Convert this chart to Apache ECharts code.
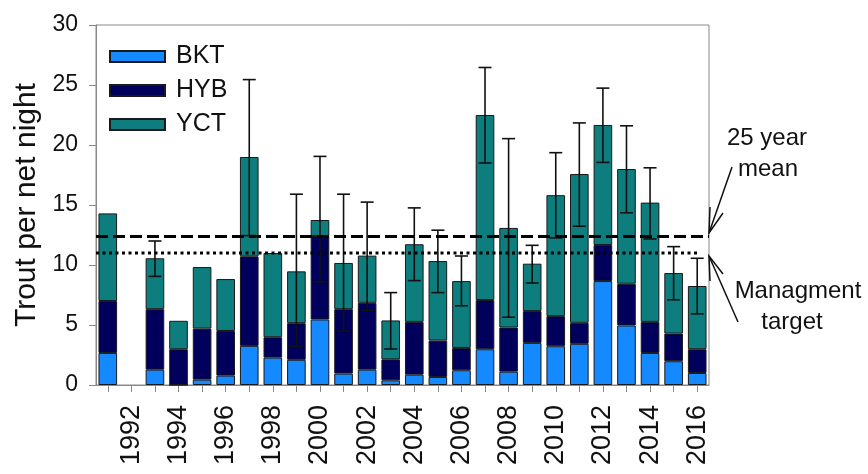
<!DOCTYPE html>
<html>
<head>
<meta charset="utf-8">
<script src="https://cdn.jsdelivr.net/npm/echarts@6/dist/echarts.min.js"></script>
<style>html,body{margin:0;padding:0;background:#fff;}#c{width:868px;height:474px;}</style>
</head>
<body>
<div id="c"></div>
<script>
const years = ['1991','1992','1993','1994','1995','1996','1997','1998','1999','2000','2001','2002','2003','2004','2005','2006','2007','2008','2009','2010','2011','2012','2013','2014','2015','2016'];
const bkt = [2.67,null,1.28,0,0.45,0.78,3.26,2.28,2.1,5.46,0.95,1.28,0.39,0.86,0.67,1.23,2.98,1.11,3.51,3.23,3.43,8.66,4.96,2.67,1.98,1.00];
const hyb = [4.33,null,5.04,2.98,4.25,3.72,7.46,1.70,3.05,6.96,5.37,5.57,1.75,4.40,3.03,1.86,4.10,3.68,2.65,2.51,1.75,3.01,3.48,2.59,2.31,1.98];
const yct = [7.30,null,4.24,2.37,5.13,4.33,8.28,7.02,4.32,1.33,3.85,3.93,3.24,6.47,6.63,5.57,15.42,8.30,3.95,10.08,12.40,10.00,9.56,9.94,5.04,5.27];
const errLow = [null,null,9.05,null,null,null,12.45,null,3.2,8.6,4.5,6.2,3.0,8.7,7.7,6.6,18.5,5.65,8.5,12.26,13.23,18.55,14.35,12.17,7.1,5.93];
const errHigh = [null,null,12.0,null,null,null,25.45,null,15.9,19.05,15.9,15.24,7.7,14.76,12.9,10.75,26.46,20.53,11.64,19.36,21.84,24.74,21.6,18.1,11.53,10.56];
const meanValue = 12.42;
const targetValue = 11.0;
const yTicks = [0,5,10,15,20,25,30];

const errData = [];
years.forEach((y, i) => { if (errLow[i] != null) errData.push([i, errLow[i], errHigh[i]]); });
// dotted target line: from the left edge of the plot to the last year's centre
const targetLine = [[-0.5, targetValue], [years.length - 1, targetValue]];

const font = 'Liberation Sans, Arial, sans-serif';
const barStyle = (c) => ({ color: c, borderColor: '#1a1a1a', borderWidth: 1 });

const chart = echarts.init(document.getElementById('c'));
chart.setOption({
  animation: false,
  textStyle: { fontFamily: font },
  grid: { left: 96, top: 25, right: 159, bottom: 89, show: true, borderColor: '#888', borderWidth: 1, containLabel: false },
  legend: {
    orient: 'vertical', left: 109, top: 44, itemWidth: 55, itemHeight: 11, itemGap: 9, padding: 0,
    icon: 'rect',
    textStyle: { fontSize: 25, color: '#111', padding: [0, 0, 0, 6], fontFamily: font },
    data: ['BKT', 'HYB', 'YCT']
  },
  xAxis: [{
    type: 'category', data: years,
    axisLine: { onZero: false, lineStyle: { color: '#888', width: 1 } },
    axisTick: { show: true, alignWithLabel: true, interval: 0, length: 7, lineStyle: { color: '#888' } },
    axisLabel: { interval: (i) => i % 2 === 1, rotate: 90, fontSize: 27, color: '#111', margin: 20, fontFamily: font }
  }, {
    type: 'value', min: -0.5, max: years.length - 0.5, show: false
  }],
  yAxis: {
    type: 'value', min: 0, max: 30, interval: 5,
    name: 'Trout per net night', nameLocation: 'middle', nameGap: 52,
    nameTextStyle: { fontSize: 30, color: '#111', fontFamily: font },
    axisLine: { show: true, onZero: false, lineStyle: { color: '#888', width: 1 } },
    axisTick: { show: true, length: 7, lineStyle: { color: '#888' } },
    splitLine: { show: false },
    axisLabel: { fontSize: 23, color: '#111', margin: 18, fontFamily: font,
      formatter: (v) => yTicks.includes(v) ? String(v) : '' }
  },
  series: [
    { name: 'BKT', type: 'bar', stack: 't', data: bkt, barWidth: '79%', itemStyle: barStyle('#1589ff') },
    { name: 'HYB', type: 'bar', stack: 't', data: hyb, barWidth: '79%', itemStyle: barStyle('#00005c') },
    { name: 'YCT', type: 'bar', stack: 't', data: yct, barWidth: '79%', itemStyle: barStyle('#0d7d7d'),
      markLine: {
        silent: true, symbol: 'none', label: { show: false }, z: 10,
        data: [ { yAxis: meanValue, lineStyle: { type: [12, 5], width: 3, color: '#000' } } ]
      }
    },
    {
      name: 'target', type: 'line', xAxisIndex: 1, data: targetLine, symbol: 'none', z: 10,
      lineStyle: { type: [3, 3.5], width: 3, color: '#000' }, silent: true
    },
    {
      name: 'err', type: 'custom', data: errData, z: 5,
      encode: { x: 0, y: [1, 2] },
      renderItem: (params, api) => {
        const x = api.value(0);
        const lo = api.coord([x, api.value(1)]);
        const hi = api.coord([x, api.value(2)]);
        const hw = 6.5;
        const st = { stroke: '#111', lineWidth: 1.6 };
        return { type: 'group', children: [
          { type: 'line', shape: { x1: hi[0], y1: hi[1], x2: lo[0], y2: lo[1] }, style: st },
          { type: 'line', shape: { x1: hi[0] - hw, y1: hi[1], x2: hi[0] + hw, y2: hi[1] }, style: st },
          { type: 'line', shape: { x1: lo[0] - hw, y1: lo[1], x2: lo[0] + hw, y2: lo[1] }, style: st }
        ]};
      }
    }
  ],
  graphic: [
    { type: 'text', x: 767, y: 126, style: { text: '25 year', font: '24px ' + font, fill: '#111', textAlign: 'center' } },
    { type: 'text', x: 768, y: 157, style: { text: 'mean', font: '24px ' + font, fill: '#111', textAlign: 'center' } },
    { type: 'text', x: 798, y: 279, style: { text: 'Managment', font: '24px ' + font, fill: '#111', textAlign: 'center' } },
    { type: 'text', x: 792, y: 310, style: { text: 'target', font: '24px ' + font, fill: '#111', textAlign: 'center' } },
    { type: 'polyline', shape: { points: [[732, 167], [709, 233]] }, style: { stroke: '#111', lineWidth: 1.5 } },
    { type: 'polyline', shape: { points: [[710, 207], [709, 233], [723, 213]] }, style: { stroke: '#111', lineWidth: 1.5, fill: null } },
    { type: 'polyline', shape: { points: [[738, 322], [709, 256]] }, style: { stroke: '#111', lineWidth: 1.5 } },
    { type: 'polyline', shape: { points: [[710, 281], [709, 256], [723, 274]] }, style: { stroke: '#111', lineWidth: 1.5, fill: null } }
  ]
});
</script>
</body>
</html>
